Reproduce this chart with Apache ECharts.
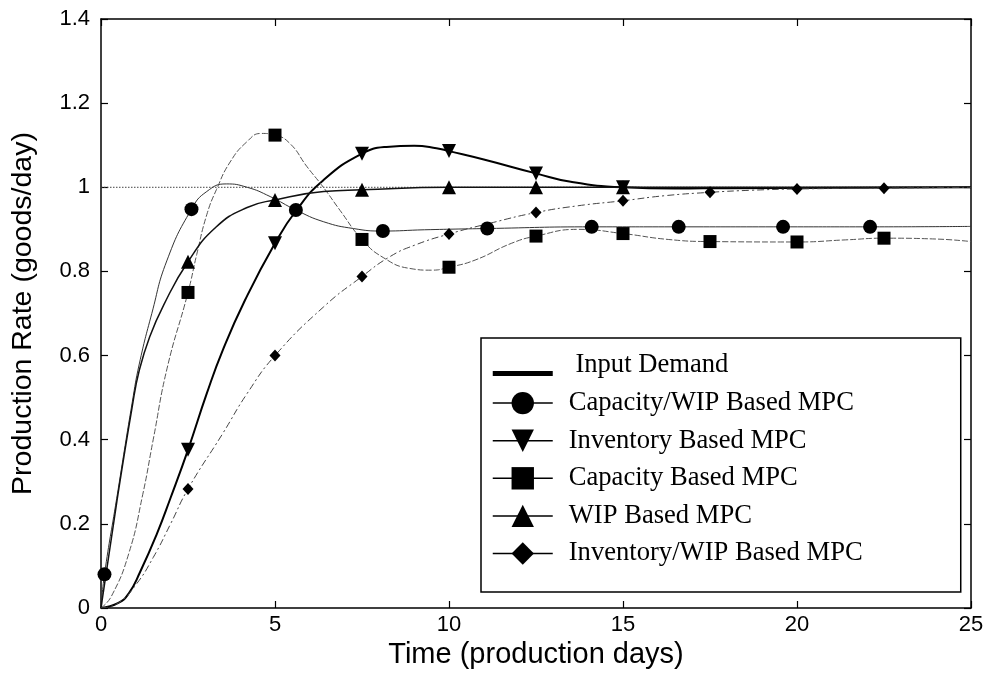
<!DOCTYPE html>
<html><head><meta charset="utf-8">
<script src="https://cdn.jsdelivr.net/npm/echarts@6/dist/echarts.min.js"></script>
<style>html,body{margin:0;padding:0;background:#fff}#c{width:987px;height:678px}</style>
</head><body><div id="c"></div>
<script>
const seriesNames = ['Input Demand','Capacity/WIP Based MPC','Inventory Based MPC','Capacity Based MPC','WIP Based MPC','Inventory/WIP Based MPC'];
const xAxisRange = [0, 25, 5];
const yAxisRange = [0, 1.4, 0.2];

const demandLine = [[0,1],[25,1]];

const capWipCurve = [[0,0],[0.45,0.26],[0.9,0.49],[1.1,0.58],[1.46,0.70],[1.89,0.825],[3.04,0.99],[3.6,1.008],[4.2,1.0],[4.86,0.978],[6.4,0.918],[7.25,0.902],[9.3,0.899],[25,0.907]];
const capWipMarkers = [[0.1,0.08],[2.6,0.948],[5.6,0.946],[8.1,0.896],[11.1,0.902],[14.1,0.906],[16.6,0.906],[19.6,0.906],[22.1,0.906]];

const invCurve = [[0,0],[0.5,0.012],[0.8,0.035],[1.12,0.085],[1.6,0.175],[2.0,0.262],[3.04,0.51],[3.5,0.613],[4.14,0.732],[5.62,0.946],[6.39,1.017],[8.2,1.096],[9.0,1.099],[9.64,1.093],[11.0,1.066],[13.5,1.013],[16.5,0.997],[18,0.998],[25,1.0]];
const invMarkers = [[2.5,0.376],[5,0.867],[7.5,1.08],[10,1.086],[12.5,1.033],[15,1.0]];

const capCurve = [[0,0],[0.3,0.028],[0.8,0.13],[1.2,0.27],[1.5,0.40],[1.9,0.57],[2.75,0.84],[3.04,0.935],[3.32,0.995],[3.71,1.06],[4.19,1.108],[4.6,1.128],[5.43,1.104],[5.91,1.05],[6.39,1.0],[6.87,0.945],[8.11,0.833],[8.88,0.807],[9.5,0.803],[10.75,0.827],[11.8,0.867],[13.7,0.9],[16.3,0.876],[21.4,0.875],[24,0.877],[25,0.871]];
const capMarkers = [[2.5,0.75],[5,1.124],[7.5,0.876],[10,0.81],[12.5,0.884],[15,0.89],[17.5,0.871],[20,0.87],[22.5,0.879]];

const wipCurve = [[0,0],[0.45,0.25],[0.9,0.48],[1.1,0.565],[1.4,0.645],[1.8,0.72],[3.3,0.905],[4.2,0.952],[6.4,0.99],[25,1.0]];
const wipMarkers = [[2.5,0.823],[5,0.97],[7.5,0.994],[10,1.0],[12.5,1.0],[15,1.0]];

const invWipCurve = [[0,0],[0.5,0.012],[1.0,0.055],[1.5,0.12],[2.0,0.2],[3.5,0.415],[4.2,0.51],[6.4,0.716],[8.3,0.835],[9.0,0.862],[11.2,0.915],[13.7,0.956],[16.2,0.98],[18.7,0.993],[25,1.0]];
const invWipMarkers = [[2.5,0.283],[5,0.6],[7.5,0.788],[10,0.889],[12.5,0.94],[15,0.968],[17.5,0.988],[20,0.996],[22.5,0.998]];

function build(curve, markers, size){
  const pts = curve.map(p => ({value: p, symbolSize: 0}))
    .concat(markers.map(p => ({value: p, symbolSize: size})));
  pts.sort((a, b) => a.value[0] - b.value[0]);
  return pts;
}

const sans = "'Liberation Sans', Arial, sans-serif";
const serif = "'Liberation Serif', 'Times New Roman', serif";

function lineSeries(name, data, symbol, lineStyle, extra){
  return Object.assign({
    name, type: 'line', data, symbol, smooth: 0.5,
    itemStyle: {color: '#000'}, lineStyle, emphasis: {disabled: true},
    xAxisIndex: 0, yAxisIndex: 0, clip: true
  }, extra || {});
}

const chart = echarts.init(document.getElementById('c'));
const axisCommon = {
  type: 'value', splitLine: {show: false},
  axisLine: {show: true, onZero: false, lineStyle: {color: '#000', width: 1.5}},
  axisTick: {show: true, inside: true, length: 7, lineStyle: {color: '#000', width: 1.2}}
};
chart.setOption({
  animation: false,
  backgroundColor: '#fff',
  grid: {left: 101, right: 16, top: 19, bottom: 70},
  xAxis: [
    Object.assign({}, axisCommon, {min: xAxisRange[0], max: xAxisRange[1], interval: xAxisRange[2], position: 'bottom',
      name: 'Time (production days)', nameLocation: 'middle', nameGap: 27,
      nameTextStyle: {fontFamily: sans, fontSize: 29, color: '#000'},
      axisLabel: {margin: 6, fontFamily: sans, fontSize: 22, color: '#000'}}),
    Object.assign({}, axisCommon, {min: xAxisRange[0], max: xAxisRange[1], interval: xAxisRange[2], position: 'top', axisLabel: {show: false}})
  ],
  yAxis: [
    Object.assign({}, axisCommon, {min: yAxisRange[0], max: yAxisRange[1], interval: yAxisRange[2], position: 'left',
      name: 'Production Rate (goods/day)', nameLocation: 'middle', nameGap: 63,
      nameTextStyle: {fontFamily: sans, fontSize: 28.5, color: '#000'},
      axisLabel: {margin: 11, fontFamily: sans, fontSize: 22, color: '#000'}}),
    Object.assign({}, axisCommon, {min: yAxisRange[0], max: yAxisRange[1], interval: yAxisRange[2], position: 'right', axisLabel: {show: false}})
  ],
  legend: {
    orient: 'vertical', left: 481, top: 338,
    padding: [14, 98, 25, 11], itemGap: 10.6, itemWidth: 60, itemHeight: 28,
    backgroundColor: '#fff', borderColor: '#000', borderWidth: 1.5, borderRadius: 0,
    textStyle: {fontFamily: serif, fontSize: 26.6, color: '#000', padding: [0, 0, 0, 11]},
    lineStyle: {color: '#000', width: 1.5, type: 'solid'},
    itemStyle: {color: '#000', borderWidth: 0},
    selectedMode: false,
    formatter: n => n === seriesNames[0] ? ' ' + n : n,
    data: [
      {name: seriesNames[0], icon: 'path://M0,0H60V0.01H0Z M0,16H60V21H0Z'},
      seriesNames[1], seriesNames[2], seriesNames[3], seriesNames[4], seriesNames[5]
    ]
  },
  series: [
    lineSeries(seriesNames[0], demandLine, 'none', {color: '#444', width: 1, type: [1.5, 1.5]}, {smooth: false}),
    lineSeries(seriesNames[1], build(capWipCurve, capWipMarkers, 14), 'circle', {color: '#333', width: 1}),
    lineSeries(seriesNames[2], build(invCurve, invMarkers, 14), 'triangle', {color: '#000', width: 2}, {symbolRotate: 180}),
    lineSeries(seriesNames[3], build(capCurve, capMarkers, 13), 'rect', {color: '#555', width: 1, type: [6, 2]}),
    lineSeries(seriesNames[4], build(wipCurve, wipMarkers, 14), 'triangle', {color: '#111', width: 1.5}),
    lineSeries(seriesNames[5], build(invWipCurve, invWipMarkers, [11, 12]), 'diamond', {color: '#444', width: 1, type: [7, 3, 2, 3]})
  ]
});
</script></body></html>
